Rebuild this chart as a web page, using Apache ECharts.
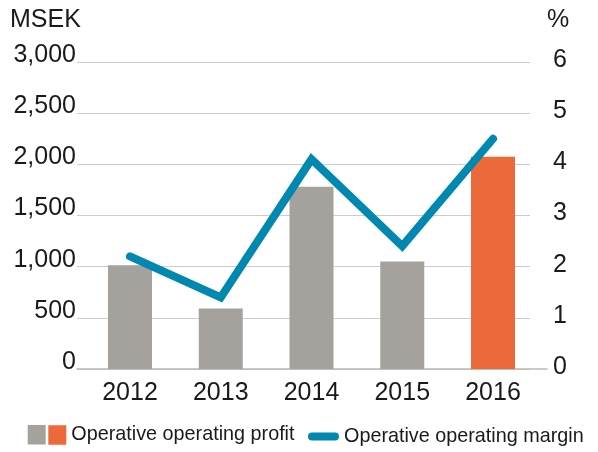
<!DOCTYPE html>
<html>
<head>
<meta charset="utf-8">
<script src="https://cdn.jsdelivr.net/npm/echarts@6/dist/echarts.min.js"></script>
<style>html,body{margin:0;padding:0;background:#fff;}#c{width:598px;height:452px;}</style>
</head>
<body>
<div id="c"></div>
<script>
const categories = ['2012', '2013', '2014', '2015', '2016'];
const profitPast = [1015, 590, 1780, 1050, '-'];
const profitLatest = ['-', '-', '-', '-', 2075];
const marginPct = [2.2, 1.4, 4.1, 2.4, 4.5];
const leftTicks = [0, 500, 1000, 1500, 2000, 2500, 3000];
const leftTickLabels = ['0', '500', '1,000', '1,500', '2,000', '2,500', '3,000'];
const rightTicks = [0, 1, 2, 3, 4, 5, 6];
const rightTickLabels = ['0', '1', '2', '3', '4', '5', '6'];
const leftUnit = 'MSEK';
const rightUnit = '%';
const profitName = 'Operative operating profit';
const profitNameAux = 'profit-past';
const marginName = 'Operative operating margin';

const FONT = '"Liberation Sans", Arial, Helvetica, sans-serif';
const TXT = '#1a1a1a';
const GRAY = '#a5a29d';
const ORANGE = '#ec6a3a';
const BLUE = '#0088b0';

const chart = echarts.init(document.getElementById('c'), null, {renderer: 'canvas'});
const gTop = 62, gBottom = 83;
const legendText = {fontSize: 19.8, color: TXT, fontFamily: FONT};
chart.setOption({
  animation: false,
  textStyle: {fontFamily: FONT, color: TXT},
  title: [
    {text: leftUnit, left: 10, top: 8, padding: 0, textStyle: {fontFamily: FONT, fontSize: 25, fontWeight: 'normal', color: TXT}},
    {text: rightUnit, left: 547, top: 8, padding: 0, textStyle: {fontFamily: FONT, fontSize: 25, fontWeight: 'normal', color: TXT}}
  ],
  grid: [
    {left: 77, right: 51, top: gTop, bottom: gBottom},
    {left: 77, right: 68, top: gTop, bottom: gBottom},
    {left: 84.6, right: 59.6, top: gTop, bottom: gBottom}
  ],
  xAxis: [
    {gridIndex: 0, type: 'category', data: categories, axisLine: {show: true, lineStyle: {color: '#bdb8b3', width: 1.5}}, axisTick: {show: false}, axisLabel: {show: false}},
    {gridIndex: 1, type: 'category', data: categories, show: false},
    {gridIndex: 2, type: 'category', data: categories, axisLine: {show: false}, axisTick: {show: false},
      axisLabel: {fontSize: 25, color: TXT, fontFamily: FONT, margin: 12}}
  ],
  yAxis: [
    {gridIndex: 0, type: 'value', min: 0, max: 3000, interval: 500, show: false},
    {gridIndex: 1, type: 'value', min: 0, max: 3000, interval: 500, position: 'left',
      axisLine: {show: false}, axisTick: {show: false},
      splitLine: {show: true, lineStyle: {color: '#d0cbc5', width: 1.2}},
      axisLabel: {fontSize: 25, color: TXT, fontFamily: FONT, margin: 1, verticalAlign: 'bottom', lineHeight: 14,
        formatter: v => leftTickLabels[leftTicks.indexOf(v)]}},
    {gridIndex: 1, type: 'value', min: 0, max: 6, interval: 1, position: 'right',
      axisLine: {show: false}, axisTick: {show: false}, splitLine: {show: false},
      axisLabel: {fontSize: 25, color: TXT, fontFamily: FONT, margin: 23, verticalAlign: 'bottom', lineHeight: 4,
        formatter: v => rightTickLabels[rightTicks.indexOf(v)]}},
    {gridIndex: 2, type: 'value', min: 0, max: 3000, interval: 500, show: false},
    {gridIndex: 2, type: 'value', min: 0, max: 6, interval: 1, show: false}
  ],
  legend: [
    {left: 27.7, top: 425, padding: 0, itemWidth: 18, itemHeight: 19.5, icon: 'rect',
      data: [profitNameAux], formatter: () => '', textStyle: legendText},
    {left: 48.3, top: 425, padding: 0, itemWidth: 18, itemHeight: 19.5, icon: 'rect',
      data: [profitName], textStyle: legendText},
    {left: 308, top: 426.5, padding: 0, itemWidth: 31, itemHeight: 8,
      icon: 'path://M4,0H27A4,4 0 0 1 27,8H4A4,4 0 0 1 4,0Z',
      data: [marginName], textStyle: legendText}
  ],
  series: [
    {name: profitNameAux, type: 'bar', xAxisIndex: 2, yAxisIndex: 3, stack: 'p', barWidth: 44,
      data: profitPast, itemStyle: {color: GRAY}},
    {name: profitName, type: 'bar', xAxisIndex: 2, yAxisIndex: 3, stack: 'p', barWidth: 44,
      data: profitLatest, itemStyle: {color: ORANGE}},
    {name: marginName, type: 'line', xAxisIndex: 2, yAxisIndex: 4, data: marginPct,
      showSymbol: false, symbol: 'none', z: 5,
      lineStyle: {color: BLUE, width: 8, cap: 'round', join: 'miter'}, itemStyle: {color: BLUE}}
  ]
});
</script>
</body>
</html>
